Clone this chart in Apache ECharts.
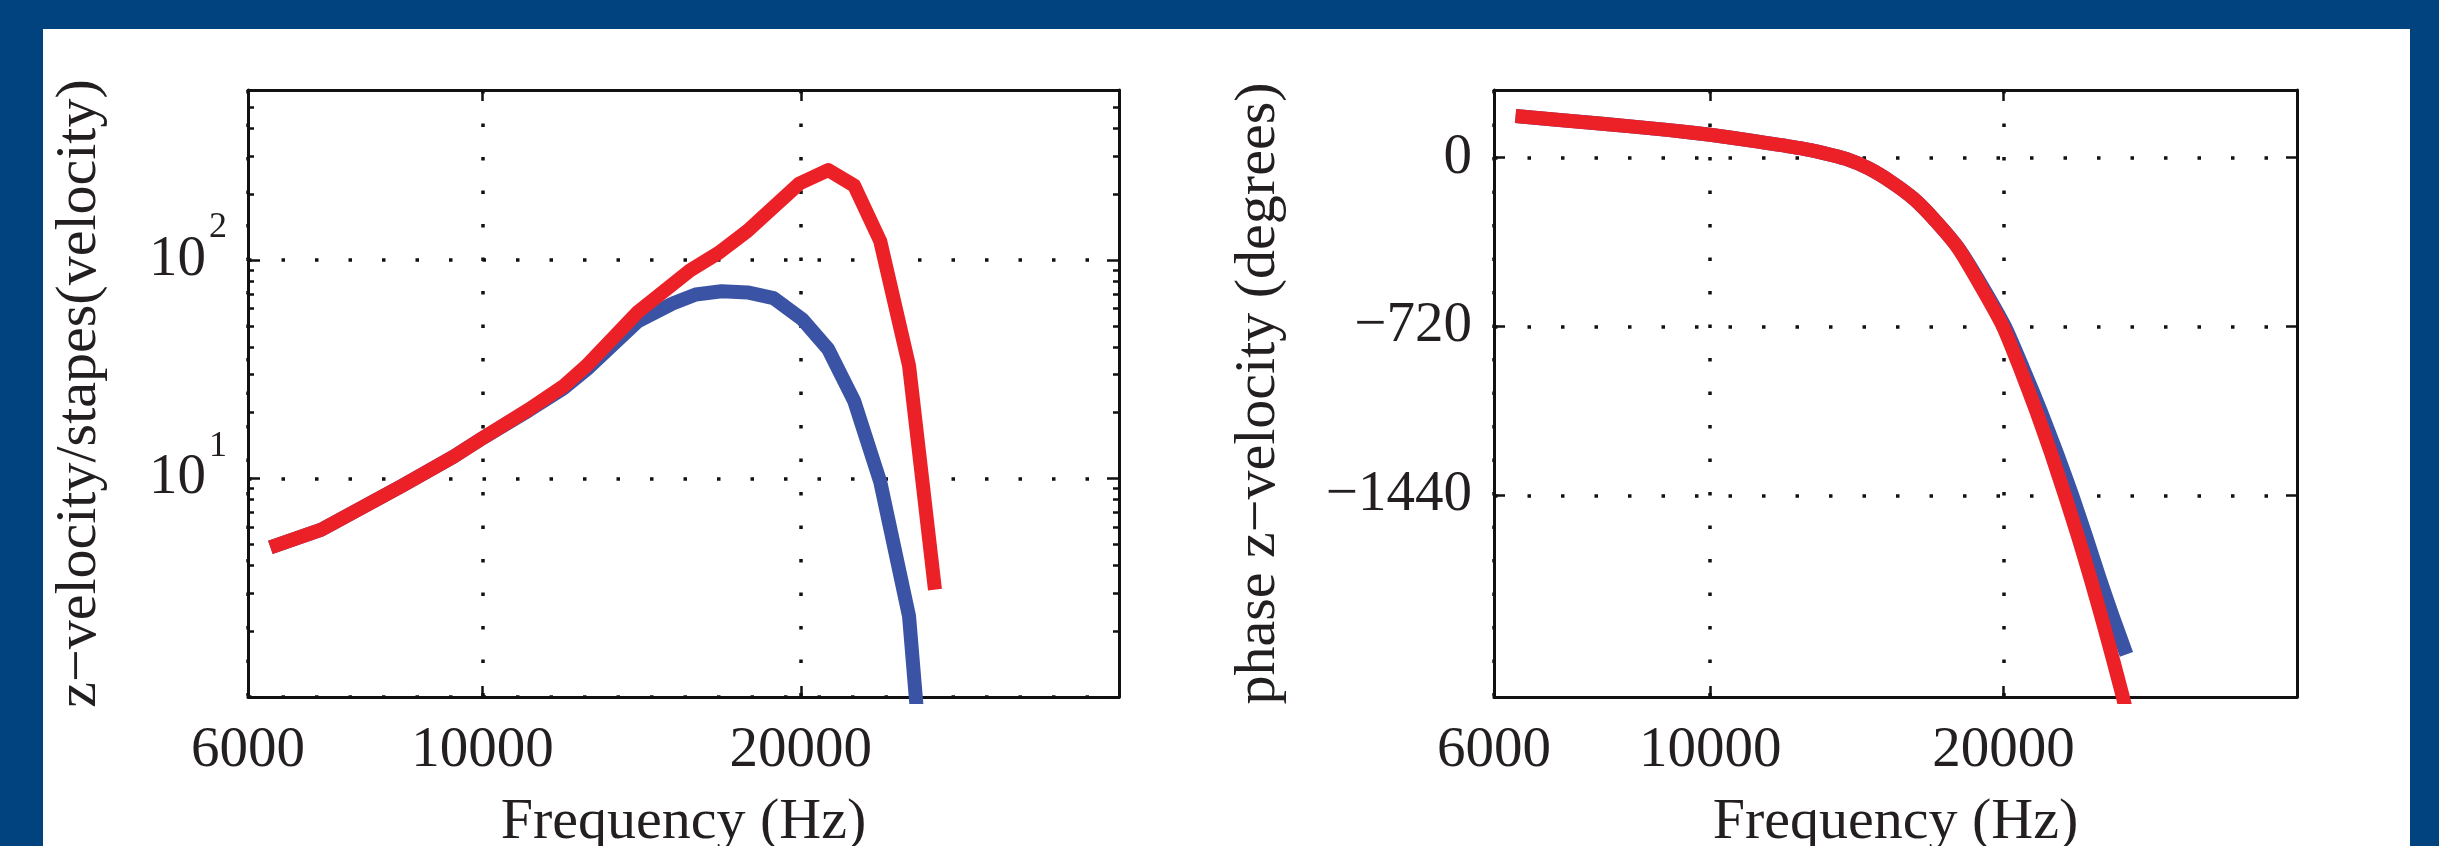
<!DOCTYPE html>
<html><head><meta charset="utf-8">
<script src="https://cdn.jsdelivr.net/npm/echarts@6/dist/echarts.min.js"></script>
<style>html,body{margin:0;padding:0;background:#01437f;} #c{width:2439px;height:846px;}</style>
</head><body><div id="c"></div>
<script>
// ---- tick values ----
const freqTicks = [6000, 10000, 20000];
const magMajorTicks = [1, 10, 100];
const magLabelTicks = [10, 100];
const magMinorTicks = [2,3,4,5,6,7,8,9,20,30,40,50,60,70,80,90,200,300,400,500,600];
const phaseTicks = [-1440, -720, 0];

// ---- left panel: magnitude ----
const magFreqRed = [6300, 7040, 8390, 9390, 10000, 11060, 11920, 12540, 14030, 15710, 16730, 17810, 19940, 21230, 22470, 23780, 25320, 26790];
const magRed     = [4.84, 5.84, 9.25, 12.6, 15.3, 20.7, 26.4, 32.8, 57.9, 89.6, 108, 136, 224, 258, 219, 122, 32.8, 3.1];
const magFreqBlue = [6300, 7040, 8390, 9390, 10000, 11060, 11920, 12540, 14030, 15130, 15910, 16830, 17810, 18850, 20070, 21230, 22470, 23780, 25320, 26000];
const magBlue     = [4.84, 5.84, 9.25, 12.6, 15.3, 20.5, 25.8, 31.5, 52.5, 63.2, 69.5, 72, 71.1, 66.9, 53.5, 39.1, 22.6, 9.66, 2.34, 0.5];

// ---- right panel: phase ----
const phFreqRed = [6314, 7700, 9029, 10000, 11156, 12404, 13076, 13786, 14534, 15322, 16155, 17035, 17960, 18936, 19970, 20800, 21600, 22370, 23120, 23860, 24580, 25360, 26510, 27000];
const phRed     = [177, 145, 118, 97, 69, 39, 19, -6, -46, -103, -174, -271, -386, -546, -720, -900, -1080, -1260, -1440, -1620, -1800, -2000, -2300, -2450];
const phFreqBlue = [6314, 7700, 9029, 10000, 11156, 12404, 13076, 13786, 14534, 15322, 16155, 17035, 17960, 18960, 20060, 20950, 21830, 22680, 23520, 24320, 25120, 25900, 26735];
const phBlue     = [177, 145, 118, 97, 69, 39, 19, -6, -46, -103, -174, -271, -384, -540, -720, -900, -1080, -1260, -1440, -1620, -1800, -1960, -2118];

const FONT = '"Liberation Serif", "DejaVu Serif", serif';
const INK = '#231f20';
const RED = '#ec2127';
const BLUE = '#3b53a4';
const LINE_W = 14;
const TICK_FS = 57;

function pairs(xs, ys) { return xs.map((x, i) => [x, ys[i]]); }
function dotted() { return { show: true, lineStyle: { color: '#111', width: 3.5, type: [3.5, 30] } }; }
const boxLine = { show: true, onZero: false, lineStyle: { color: '#111', width: 3 } };
const noLine = { show: false, onZero: false };
function ticks(vals, len) { return { show: true, inside: true, length: len, customValues: vals, lineStyle: { color: '#111', width: 2.5 } }; }
const nameStyle = { fontFamily: FONT, fontSize: 58, color: INK };

function xAxes(gi) {
  return [
    { gridIndex: gi, type: 'log', min: 6000, max: 40000, position: 'bottom',
      axisLine: boxLine, axisTick: ticks(freqTicks, 11), minorTick: { show: false },
      axisLabel: { customValues: freqTicks, formatter: v => String(Math.round(v)), fontFamily: FONT, fontSize: TICK_FS, color: INK, margin: 26, hideOverlap: false },
      splitLine: dotted(), minorSplitLine: { show: false },
      name: 'Frequency (Hz)', nameLocation: 'middle', nameGap: 97, nameMoveOverlap: false, nameTextStyle: nameStyle },
    { gridIndex: gi, type: 'log', min: 6000, max: 40000, position: 'top',
      axisLine: boxLine, axisTick: ticks(freqTicks, 11), axisLabel: { show: false }, splitLine: { show: false } }
  ];
}

const magLabelFmt = v => '{b|10}{s|' + Math.round(Math.log10(v)) + '}';
const magRich = { b: { fontFamily: FONT, fontSize: TICK_FS, lineHeight: 100, color: INK },
                  s: { fontFamily: FONT, fontSize: 36, lineHeight: 36, color: INK, verticalAlign: 'top', padding: [0, 0, 0, 3] } };

const option = {
  backgroundColor: '#01437f',
  animation: false,
  graphic: [{ type: 'rect', z: -100, silent: true, shape: { x: 43, y: 29, width: 2367, height: 840 }, style: { fill: '#ffffff' } }],
  grid: [
    { left: 248, top: 90, width: 871, height: 607, containLabel: false, outerBoundsMode: 'none' },
    { left: 1494, top: 90, width: 803, height: 607, containLabel: false, outerBoundsMode: 'none' }
  ],
  xAxis: [...xAxes(0), ...xAxes(1)],
  yAxis: [
    { gridIndex: 0, type: 'log', min: 1, max: 600, position: 'left',
      axisLine: boxLine, axisTick: ticks(magMajorTicks, 12), minorTick: { show: false },
      axisLabel: { customValues: magLabelTicks, formatter: magLabelFmt, rich: magRich, margin: 21, hideOverlap: false },
      splitLine: dotted(),
      name: 'z\u2212velocity/stapes(velocity)', nameLocation: 'middle', nameGap: 139, nameMoveOverlap: false, nameTextStyle: nameStyle },
    { gridIndex: 0, type: 'log', min: 1, max: 600, position: 'left',
      axisLine: noLine, axisTick: ticks(magMinorTicks, 6), axisLabel: { show: false }, splitLine: { show: false } },
    { gridIndex: 0, type: 'log', min: 1, max: 600, position: 'right',
      axisLine: boxLine, axisTick: ticks(magMajorTicks, 12), axisLabel: { show: false }, splitLine: { show: false } },
    { gridIndex: 0, type: 'log', min: 1, max: 600, position: 'right',
      axisLine: noLine, axisTick: ticks(magMinorTicks, 6), axisLabel: { show: false }, splitLine: { show: false } },
    { gridIndex: 1, type: 'value', min: -2300, max: 288, position: 'left',
      axisLine: boxLine, axisTick: ticks(phaseTicks, 11),
      axisLabel: { customValues: phaseTicks, formatter: v => v < 0 ? '\u2212' + Math.abs(v) : String(v), fontFamily: FONT, fontSize: TICK_FS, color: INK, margin: 22, hideOverlap: false },
      splitLine: dotted(),
      name: 'phase z\u2212velocity (degrees)', nameLocation: 'middle', nameGap: 206, nameMoveOverlap: false, nameTextStyle: nameStyle },
    { gridIndex: 1, type: 'value', min: -2300, max: 288, position: 'right',
      axisLine: boxLine, axisTick: ticks(phaseTicks, 11), axisLabel: { show: false }, splitLine: { show: false } }
  ],
  series: [
    { type: 'line', xAxisIndex: 0, yAxisIndex: 0, data: pairs(magFreqBlue, magBlue), showSymbol: false, clip: true,
      lineStyle: { color: BLUE, width: LINE_W, join: 'round', cap: 'butt' }, z: 3 },
    { type: 'line', xAxisIndex: 0, yAxisIndex: 0, data: pairs(magFreqRed, magRed), showSymbol: false, clip: true,
      lineStyle: { color: RED, width: LINE_W, join: 'round', cap: 'butt' }, z: 4 },
    { type: 'line', xAxisIndex: 2, yAxisIndex: 4, data: pairs(phFreqBlue, phBlue), showSymbol: false, clip: true, smooth: 0.2,
      lineStyle: { color: BLUE, width: LINE_W, join: 'round', cap: 'butt' }, z: 3 },
    { type: 'line', xAxisIndex: 2, yAxisIndex: 4, data: pairs(phFreqRed, phRed), showSymbol: false, clip: true, smooth: 0.2,
      lineStyle: { color: RED, width: LINE_W, join: 'round', cap: 'butt' }, z: 4 }
  ]
};
const chart = echarts.init(document.getElementById('c'), null, { renderer: 'canvas' });
chart.setOption(option);
</script></body></html>
